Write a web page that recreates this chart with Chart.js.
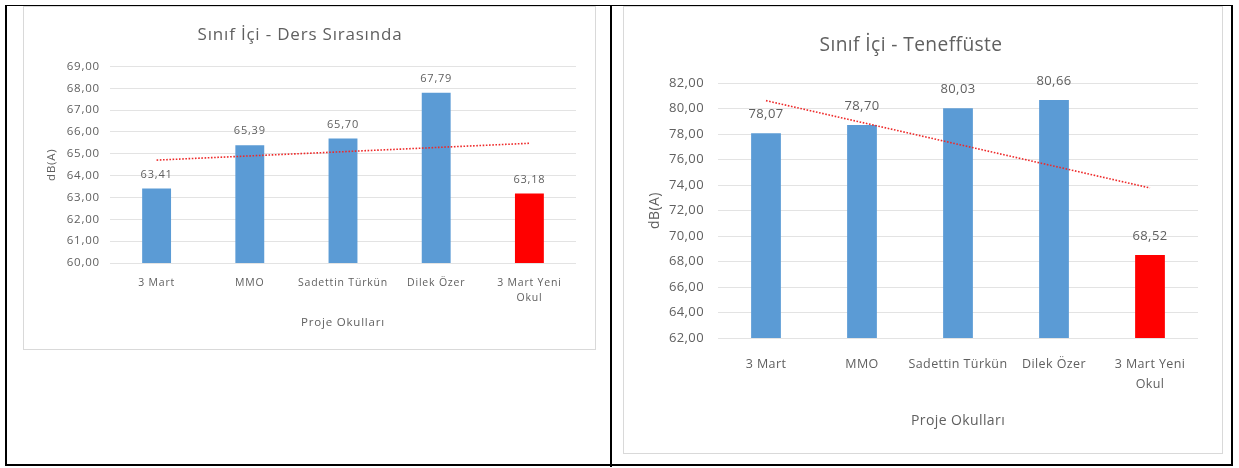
<!DOCTYPE html>
<html>
<head>
<meta charset="utf-8">
<script src="https://cdn.jsdelivr.net/npm/chart.js@4.4.0/dist/chart.umd.min.js"></script>
<style>
  body { margin: 0; background: #fff; font-family: "Open Sans", sans-serif; }
  #frame { position: absolute; left: 5px; top: 5px; width: 1224px; height: 458px; border: 2px solid #000; border-top-width: 1.5px; }
  #divider { position: absolute; left: 610px; top: 5px; width: 2px; height: 462px; background: #000; }
  .box { position: absolute; border: 1px solid #d9d9d9; background: #fff; box-sizing: border-box; }
  #boxLeft { left: 23px; top: 6px; width: 573px; height: 344px; }
  #boxRight { left: 623px; top: 6px; width: 600px; height: 448px; }
  canvas { position: absolute; left: 0; top: 0; }
</style>
</head>
<body>
<div id="frame"></div>
<div id="divider"></div>
<div class="box" id="boxLeft"><canvas id="dersChart" width="571" height="342"></canvas></div>
<div class="box" id="boxRight"><canvas id="tenefChart" width="598" height="446"></canvas></div>

<script>
// chart values
const categories = ['3 Mart', 'MMO', 'Sadettin Türkün', 'Dilek Özer', ['3 Mart Yeni', 'Okul']];
const barColors = ['#5B9BD5', '#5B9BD5', '#5B9BD5', '#5B9BD5', '#FF0000'];

const dersValues = [63.41, 65.39, 65.70, 67.79, 63.18];
const dersTrend = [64.71, null, null, null, 65.48];   // dotted trendline ends
const dersTicks = [60, 61, 62, 63, 64, 65, 66, 67, 68, 69];

const tenefValues = [78.07, 78.70, 80.03, 80.66, 68.52];
const tenefTrend = [80.62, null, null, null, 73.77];
const tenefTicks = [62, 64, 66, 68, 70, 72, 74, 76, 78, 80, 82];

const grey = '#606060';
const fam = '"Open Sans", sans-serif';

function fmt(v) {
    return v.toFixed(2).replace('.', ',');
}

// draws the value above each bar
const barLabels = {
    id: 'barLabels',
    afterDatasetsDraw(chart, args, opts) {
        const ctx = chart.ctx;
        const meta = chart.getDatasetMeta(0);
        const values = chart.data.datasets[0].data;
        ctx.save();
        ctx.font = opts.size + 'px ' + fam;
        ctx.fillStyle = grey;
        ctx.textAlign = 'center';
        ctx.textBaseline = 'middle';
        meta.data.forEach(function (bar, i) {
            ctx.fillText(fmt(values[i]), bar.x, bar.y - opts.offset);
        });
        ctx.restore();
    }
};

// the excel text is a bit wider, spread letters a little
const spacing = {
    id: 'spacing',
    beforeDraw(chart, args, opts) { chart.ctx.letterSpacing = opts.px + 'px'; },
    afterDraw(chart) { chart.ctx.letterSpacing = '0px'; }
};

function makeChart(id, title, values, trend, ticks, s) {
    new Chart(document.getElementById(id), {
        type: 'bar',
        data: {
            labels: categories,
            datasets: [{
                data: values,
                backgroundColor: barColors,
                categoryPercentage: 1,
                barPercentage: 0.31,
                order: 1
            }, {
                type: 'line',
                data: trend,
                spanGaps: true,
                borderColor: '#EE2A2A',
                borderWidth: 1.6,
                borderDash: [1.6, 1.6],
                pointRadius: 0,
                fill: false,
                order: 0
            }]
        },
        options: {
            responsive: false,
            animation: false,
            layout: { padding: { left: 0, right: s.padRight, top: 0, bottom: 0 } },
            plugins: {
                legend: { display: false },
                tooltip: { enabled: false },
                title: {
                    display: true,
                    text: title,
                    color: grey,
                    font: { family: fam, size: s.titleSize, weight: 'normal', lineHeight: 1.2 },
                    padding: { top: s.titleTop, bottom: s.titleBottom }
                },
                barLabels: { size: s.labelSize, offset: s.labelOffset },
                spacing: { px: s.spacing }
            },
            scales: {
                x: {
                    grid: { display: false, drawTicks: false },
                    border: { display: false },
                    ticks: {
                        color: grey,
                        autoSkip: false,
                        maxRotation: 0,
                        padding: s.xTickPad,
                        font: { family: fam, size: s.xTickSize, lineHeight: s.xTickLh }
                    },
                    title: {
                        display: true,
                        text: 'Proje Okulları',
                        color: grey,
                        font: { family: fam, size: s.axisTitleSize, lineHeight: 1.2 },
                        padding: { top: 0, bottom: s.xTitlePad }
                    },
                    afterFit: function (scale) { scale.height = s.xHeight; }
                },
                y: {
                    min: ticks[0],
                    max: ticks[ticks.length - 1],
                    grid: { color: '#e3e3e3', drawTicks: false },
                    border: { display: false },
                    ticks: {
                        stepSize: ticks[1] - ticks[0],
                        color: grey,
                        padding: s.yTickPad,
                        font: { family: fam, size: s.yTickSize },
                        callback: function (v) { return fmt(v); }
                    },
                    title: {
                        display: true,
                        text: 'dB(A)',
                        color: grey,
                        font: { family: fam, size: s.axisTitleSize, lineHeight: 1.2 },
                        padding: { top: s.yTitlePad, bottom: 0 }
                    },
                    afterFit: function (scale) { scale.width = s.yWidth; }
                }
            }
        },
        plugins: [barLabels, spacing]
    });
}

makeChart('dersChart', 'Sınıf İçi - Ders Sırasında', dersValues, dersTrend, dersTicks, {
    padRight: 19, titleSize: 17, titleTop: 18, titleBottom: 21, spacing: 0.8,
    labelSize: 11, labelOffset: 14,
    xTickPad: 12, xTickSize: 10.5, xTickLh: 1.45, axisTitleSize: 11.5, xTitlePad: 19, xHeight: 86,
    yTickPad: 10, yTickSize: 11.5, yTitlePad: 21, yWidth: 86
});

makeChart('tenefChart', 'Sınıf İçi - Teneffüste', tenefValues, tenefTrend, tenefTicks, {
    padRight: 24, titleSize: 19.2, titleTop: 27, titleBottom: 26, spacing: 0.4,
    labelSize: 13, labelOffset: 19,
    xTickPad: 16, xTickSize: 12.5, xTickLh: 1.6, axisTitleSize: 14, xTitlePad: 24, xHeight: 115,
    yTickPad: 14, yTickSize: 13, yTitlePad: 23, yWidth: 94
});
</script>
</body>
</html>
